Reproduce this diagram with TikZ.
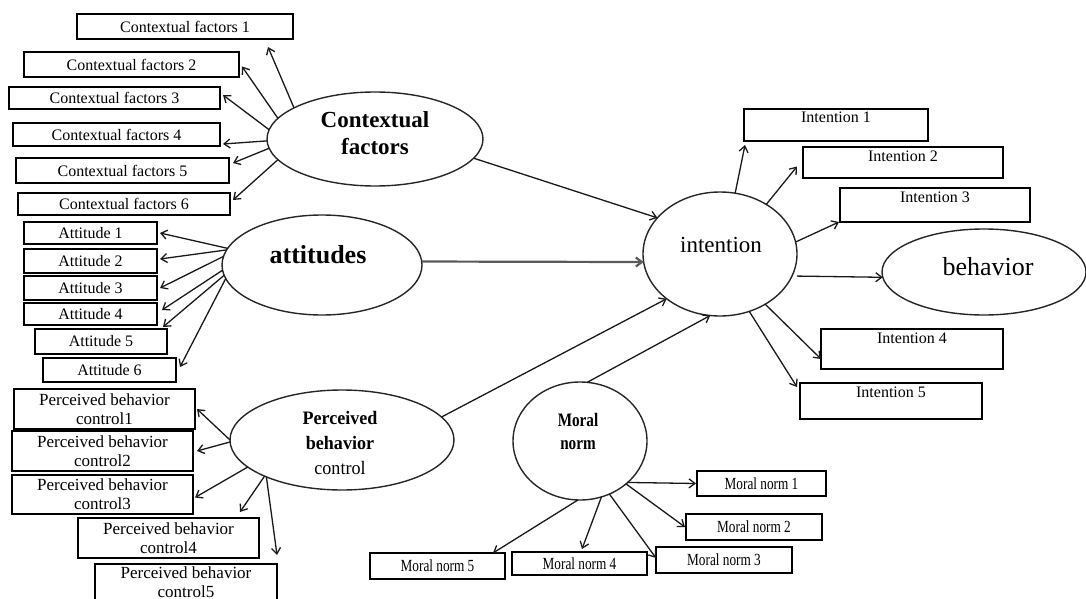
\documentclass[tikz,border=0pt]{standalone}
\usepackage{fontspec}
\setmainfont{Liberation Serif}
\usetikzlibrary{arrows.meta,shapes.geometric}

\begin{document}
\begin{tikzpicture}[x=1pt,y=-1pt,
  every node/.style={inner sep=0pt, outer sep=0pt},
  sz/.style 2 args={minimum width=#1pt, minimum height=#2pt},
  construct/.style={draw=black!85, ellipse, line width=1.4pt},
  item/.style={draw, rectangle, line width=1.4pt, align=center},
  cfbox/.style={item, font=\fontsize{16}{18}\selectfont},
  attbox/.style={item, font=\fontsize{16}{18}\selectfont},
  pbcbox/.style={item, font=\fontsize{17}{19}\selectfont},
  ibox/.style={item, font=\fontsize{16}{18}\selectfont, text height=14pt, text depth=#1},
  mnbox/.style={item, font=\fontsize{17}{19}\selectfont},
  arr/.style={draw=black!90, line width=1.3pt, -{Straight Barb[length=6pt,width=9pt]}},
]
\useasboundingbox (0,0) rectangle (1086,599);

% latent constructs
\node[construct, sz={216}{94}] (cf) at (375,139) {};
\node[align=center, font=\bfseries\fontsize{23}{27}\selectfont] (cf-t) at (375,133) {Contextual\\factors};
\node[construct, sz={200}{100}] (att) at (322,265) {};
\node[font=\bfseries\fontsize{26}{30}\selectfont] (att-t) at (318,255) {attitudes};
\node[construct, sz={224}{100}] (pbc) at (342,440) {};
\node[align=center, font=\fontsize{19}{25}\selectfont] (pbc-t) at (340,443) {\scalebox{0.95}[1]{\textbf{Perceived}}\\\scalebox{0.95}[1]{\textbf{behavior}}\\\scalebox{0.95}[1]{control}};
\node[construct, sz={154}{124}] (int) at (720,254) {};
\node[font=\fontsize{23}{27}\selectfont] (int-t) at (721,245) {intention};
\node[construct, sz={204}{86}] (beh) at (984,272) {};
\node[font=\fontsize{26}{30}\selectfont] (beh-t) at (988,267) {behavior};
\node[construct, sz={134}{118}] (mn) at (580,441) {};
\node[align=center, font=\bfseries\fontsize{19}{23}\selectfont] (mn-t) at (578,431.5) {\scalebox{0.8}[1]{Moral}\\\scalebox{0.8}[1]{norm}};

% contextual factor items
\node[cfbox, sz={216}{25}] (cf1) at (185,26.5) {Contextual factors 1};
\node[cfbox, sz={215}{25}] (cf2) at (131.5,64.5) {Contextual factors 2};
\node[cfbox, sz={211}{22}] (cf3) at (114.5,98) {Contextual factors 3};
\node[cfbox, sz={207}{23}] (cf4) at (116.5,134.5) {Contextual factors 4};
\node[cfbox, sz={213}{25}] (cf5) at (122.5,170.5) {Contextual factors 5};
\node[cfbox, sz={212}{22}] (cf6) at (124,204) {Contextual factors 6};

% attitude items
\node[attbox, sz={133}{22}] (a1) at (90.5,233) {Attitude 1};
\node[attbox, sz={133}{24}] (a2) at (90.5,261) {Attitude 2};
\node[attbox, sz={133}{24}] (a3) at (90.5,288) {Attitude 3};
\node[attbox, sz={133}{22}] (a4) at (90.5,314) {Attitude 4};
\node[attbox, sz={132}{25}] (a5) at (101,341.5) {Attitude 5};
\node[attbox, sz={133}{24}] (a6) at (109.5,370) {Attitude 6};

% perceived behavior control items
\node[pbcbox, sz={181}{40}] (pbc1) at (104.5,409) {Perceived behavior\\control1};
\node[pbcbox, sz={181}{40}] (pbc2) at (102.5,451) {Perceived behavior\\control2};
\node[pbcbox, sz={181}{39}] (pbc3) at (102.5,494.5) {Perceived behavior\\control3};
\node[pbcbox, sz={181}{40}] (pbc4) at (168.5,538) {Perceived behavior\\control4};
\node[pbcbox, sz={182}{36}] (pbc5) at (186,582) {Perceived behavior\\control5};

% intention items
\node[ibox=18pt, sz={184}{32}] (i1) at (836,125) {Intention 1};
\node[ibox=17pt, sz={200}{31}] (i2) at (903,162.5) {Intention 2};
\node[ibox=20pt, sz={190}{34}] (i3) at (935,205) {Intention 3};
\node[ibox=26pt, sz={182}{40}] (i4) at (912,349) {Intention 4};
\node[ibox=22pt, sz={182}{36}] (i5) at (891,401) {Intention 5};

% moral norm items
\node[mnbox, sz={129}{25}] (mn1) at (761.5,483.5) {\scalebox{0.78}[1]{Moral norm 1}};
\node[mnbox, sz={136}{26}] (mn2) at (754,527) {\scalebox{0.78}[1]{Moral norm 2}};
\node[mnbox, sz={136}{26}] (mn3) at (724,560) {\scalebox{0.78}[1]{Moral norm 3}};
\node[mnbox, sz={135}{23}] (mn4) at (579.5,563.5) {\scalebox{0.78}[1]{Moral norm 4}};
\node[mnbox, sz={135}{26}] (mn5) at (437.5,566) {\scalebox{0.78}[1]{Moral norm 5}};

% contextual factors -> items
\draw[arr] (cf.159) -- ([xshift=-25pt,yshift=-8pt]cf1.south east);
\draw[arr] (cf.168) -- ([xshift=3pt,yshift=-2pt]cf2.east);
\draw[arr] (cf.175) -- ([xshift=3pt,yshift=3pt]cf3.east);
\draw[arr] (cf.181) -- ([xshift=3pt,yshift=2pt]cf4.south east);
\draw[arr] (cf.185) -- ([xshift=4pt,yshift=-5pt]cf5.north east);
\draw[arr] (cf.192) -- ([xshift=3pt,yshift=-7pt]cf6.north east);

% attitudes -> items
\draw[arr] (att.170) -- ([xshift=3pt]a1.east);
\draw[arr] (att.171) -- ([xshift=3pt,yshift=2pt]a2.east);
\draw[arr] (att.175) -- ([xshift=3pt]a3.east);
\draw[arr] (att.183) -- ([xshift=5pt,yshift=4pt]a4.east);
\draw[arr] (att.186) -- ([xshift=-4pt,yshift=2pt]a5.north east);
\draw[arr] (att.188) -- ([xshift=4pt,yshift=3pt]a6.east);

% perceived behavior control -> items
\draw[arr] (pbc.180) -- ([xshift=2pt]pbc1.east);
\draw[arr] (pbc.181) -- ([xshift=4pt]pbc2.east);
\draw[arr] (pbc.196) -- ([xshift=2pt,yshift=-3pt]pbc3.east);
\draw[arr] (pbc.205) -- ([xshift=-19pt,yshift=6pt]pbc4.north east);
\draw[arr] (pbc.206) -- ([yshift=9pt]pbc5.north east);

% intention -> items and behavior
\draw[arr] (int.76) -- ([xshift=1pt,yshift=-4pt]i1.south west);
\draw[arr] (int.47) -- ([xshift=-6pt,yshift=-4pt]i2.west);
\draw[arr] (int.9) -- ([xshift=-1pt]i3.south west);
\draw[arr, shorten <=5pt] (int.-17) -- (beh.183);
\draw[arr] (int.-48) -- ([yshift=10pt]i4.south west);
\draw[arr] (int.-63) -- ([xshift=-3pt,yshift=-4pt]i5.north west);

% predictors -> intention
\draw[arr] (cf.-11) -- (int.150);
\draw[arr, draw=black!65, line width=2.2pt] (att.2) -- (int.186);
\draw[arr] (pbc.13) -- (int.220);
\draw[arr] (mn.83) -- (int.261);

% moral norm -> items
\draw[arr] (mn.-41) -- ([xshift=-1pt]mn1.west);
\draw[arr] (mn.-43) -- ([xshift=-1pt]mn2.west);
\draw[arr] (mn.-61) -- ([yshift=2pt]mn3.west);
\draw[arr] (mn.-69) -- ([xshift=2.5pt,yshift=3pt]mn4.north);
\draw[arr] (mn.-92) -- ([xshift=-12pt]mn5.north east);
\end{tikzpicture}
\end{document}
